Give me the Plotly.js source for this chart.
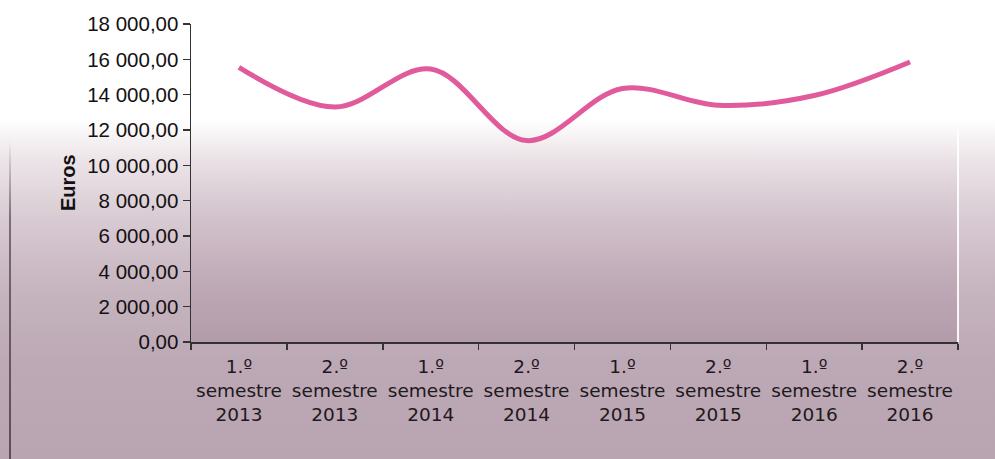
<!DOCTYPE html>
<html>
<head>
<meta charset="utf-8">
<script src="https://cdn.plot.ly/plotly-3.0.1.min.js"></script>
<style>
  html, body { margin:0; padding:0; }
  body {
    width:995px; height:459px; overflow:hidden; position:relative;
    background: linear-gradient(to bottom, #ffffff 0px, #ffffff 118px, #ece4e8 160px, #d8cad2 220px, #c6b4bf 290px, #bca9b5 360px, #b8a5b1 459px);
  }
  #plotbg {
    position:absolute; left:191px; top:24px; width:767px; height:318px;
    background: linear-gradient(to bottom, rgba(255,255,255,0) 0%, rgba(255,255,255,0) 35%, rgba(120,70,100,0.05) 55%, rgba(115,65,95,0.15) 100%);
  }
  #edge {
    position:absolute; left:9px; top:140px; width:2px; height:319px;
    background: linear-gradient(to bottom, rgba(60,50,55,0) 0%, rgba(60,50,55,0.6) 25%, rgba(60,50,55,0.75) 100%);
  }
  #chart { position:absolute; left:0; top:0; width:995px; height:459px; }
</style>
</head>
<body>
<div id="plotbg"></div>
<div id="edge"></div>
<div id="chart"></div>
<script>
const categories = [
  "1.º<br>semestre<br>2013", "2.º<br>semestre<br>2013",
  "1.º<br>semestre<br>2014", "2.º<br>semestre<br>2014",
  "1.º<br>semestre<br>2015", "2.º<br>semestre<br>2015",
  "1.º<br>semestre<br>2016", "2.º<br>semestre<br>2016"
];
const values = [15550, 13300, 15450, 11400, 14350, 13400, 13950, 15850];
const yTickVals = [0, 2000, 4000, 6000, 8000, 10000, 12000, 14000, 16000, 18000];
const yTickText = ["0,00", "2 000,00", "4 000,00", "6 000,00", "8 000,00", "10 000,00", "12 000,00", "14 000,00", "16 000,00", "18 000,00"];
const yTitle = "Euros";

const trace = {
  x: categories,
  y: values,
  type: "scatter",
  mode: "lines",
  line: { color: "#e05a9c", width: 5, shape: "spline", smoothing: 1 },
  hoverinfo: "x+y"
};

const fontFam = "Liberation Sans, Arial, sans-serif";

const layout = {
  width: 995, height: 459,
  margin: { l: 191, r: 37, t: 24, b: 117 },
  paper_bgcolor: "rgba(0,0,0,0)",
  plot_bgcolor: "rgba(0,0,0,0)",
  showlegend: false,
  xaxis: {
    type: "category",
    range: [-0.5, categories.length - 0.5],
    tickson: "boundaries",
    ticks: "outside", ticklen: 6, tickwidth: 1.5, tickcolor: "#333",
    showline: true, linecolor: "#333", linewidth: 1.5,
    showgrid: false, zeroline: false,
    ticklabelstandoff: 7,
    tickfont: { family: "DejaVu Sans, sans-serif", size: 18.5, color: "#1f181c" },
    automargin: false
  },
  yaxis: {
    range: [0, 18000],
    tickvals: yTickVals, ticktext: yTickText,
    ticks: "outside", ticklen: 7, tickwidth: 1.5, tickcolor: "#333",
    showline: true, linecolor: "#333", linewidth: 1.5,
    showgrid: false, zeroline: false,
    tickfont: { family: fontFam, size: 20.5, color: "#141112" },
    automargin: false
  },
  annotations: [
    { text: "<b>" + yTitle + "</b>", xref: "paper", yref: "paper", x: 0, y: 0.5,
      xanchor: "center", yanchor: "middle", xshift: -123, textangle: -90, showarrow: false,
      font: { family: fontFam, size: 20, color: "#141112" } }
  ],
  shapes: [
    { type: "line", xref: "paper", yref: "y", x0: 1, x1: 1, y0: 0, y1: 12000,
      line: { color: "rgba(255,255,255,0.9)", width: 2 } }
  ]
};

Plotly.newPlot("chart", [trace], layout, { displayModeBar: false, staticPlot: true });
</script>
</body>
</html>
